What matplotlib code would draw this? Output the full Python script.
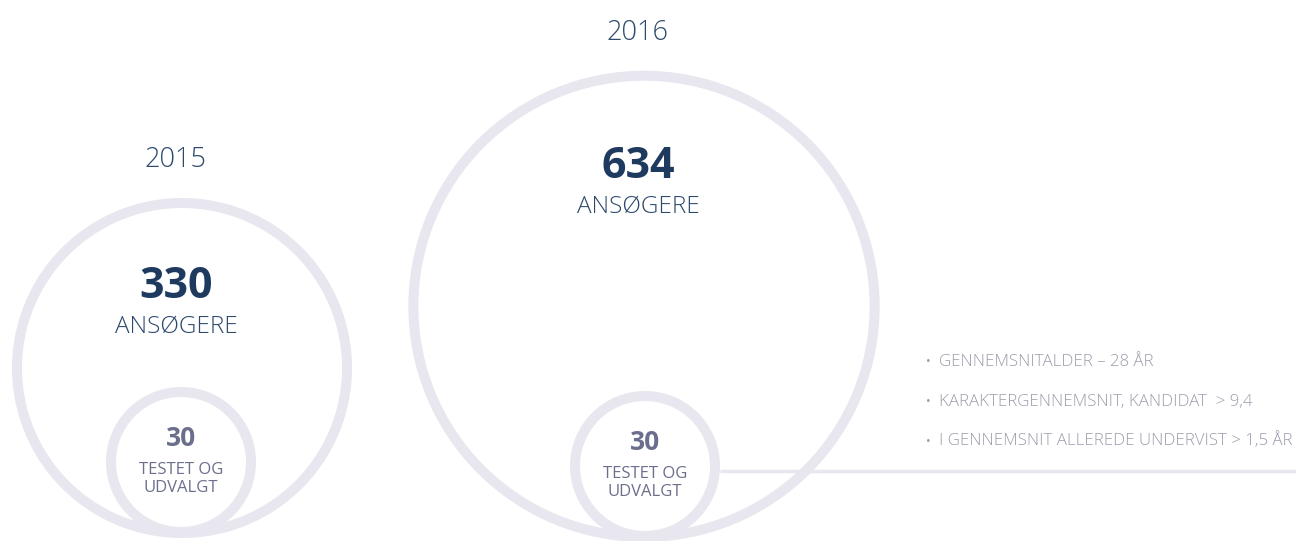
import numpy as np
import matplotlib.pyplot as plt
from matplotlib.patches import Circle

# data
years = ['2015', '2016']
applicants = [330, 634]
selected = [30, 30]
applicant_label = 'ANSØGERE'
selected_label = 'TESTET OG\nUDVALGT'
facts = ['GENNEMSNITALDER – 28 ÅR',
         'KARAKTERGENNEMSNIT, KANDIDAT  > 9,4',
         'I GENNEMSNIT ALLEREDE UNDERVIST > 1,5 ÅR']

# layout (pixel coords, y down)
big_cx = [182, 644]
big_bottom = [538, 542]
num_y = [286, 166]
small_cx = [181, 645]
small_r = 70
ring_w = 10
k = 170 / np.sqrt(applicants[0])   # circle area ~ applicants

ring_col = '#e8e6ee'
navy = '#1e3a5f'
year_col = '#2d4a6d'
grey_num = '#6b6f8c'
fact_col = '#9c9cad'

plt.rcParams['font.family'] = ['Open Sans', 'DejaVu Sans']

fig = plt.figure(figsize=(12.96, 5.41), dpi=100)
ax = fig.add_axes([0, 0, 1, 1])
ax.set_xlim(0, 1296)
ax.set_ylim(541, 0)
ax.axis('off')

lw = ring_w * 0.72
for i in range(len(years)):
    R = k * np.sqrt(applicants[i])
    cy = big_bottom[i] - R
    ax.add_patch(Circle((big_cx[i], cy), R - ring_w / 2, fill=False,
                        ec=ring_col, lw=lw, clip_on=False))
    scy = big_bottom[i] - small_r - ring_w / 2 - 1
    ax.add_patch(Circle((small_cx[i], scy), small_r, fill=False,
                        ec=ring_col, lw=lw, clip_on=False))

    top = cy - R
    ax.text(big_cx[i] - 6, top - 38, years[i], ha='center', va='center',
            fontsize=19.5, color=year_col, fontweight='light')
    ax.text(big_cx[i] - 6, num_y[i], str(applicants[i]), ha='center', va='center',
            fontsize=31, color=navy, fontweight='bold')
    ax.text(big_cx[i] - 6, num_y[i] + 41, applicant_label, ha='center', va='center',
            fontsize=17.5, color=year_col, fontweight='light')

    ax.text(small_cx[i], scy - 24, str(selected[i]), ha='center', va='center',
            fontsize=19, color=grey_num, fontweight='bold')
    ax.text(small_cx[i], scy + 17, selected_label, ha='center', va='center',
            fontsize=12, color=grey_num, linespacing=1.2)

# connector line
line_y = 471
ax.plot([small_cx[1] + small_r + ring_w / 2, 1296], [line_y, line_y],
        color=ring_col, lw=2.5, solid_capstyle='butt', clip_on=False)

# facts
for j, f in enumerate(facts):
    y = 362 + j * 39.5
    ax.text(926, y, '•', ha='left', va='center', fontsize=9, color=fact_col)
    ax.text(939, y, f, ha='left', va='center', fontsize=12.2,
            color=fact_col, fontweight='light')

fig.savefig('out.png', dpi=100, facecolor='white')
